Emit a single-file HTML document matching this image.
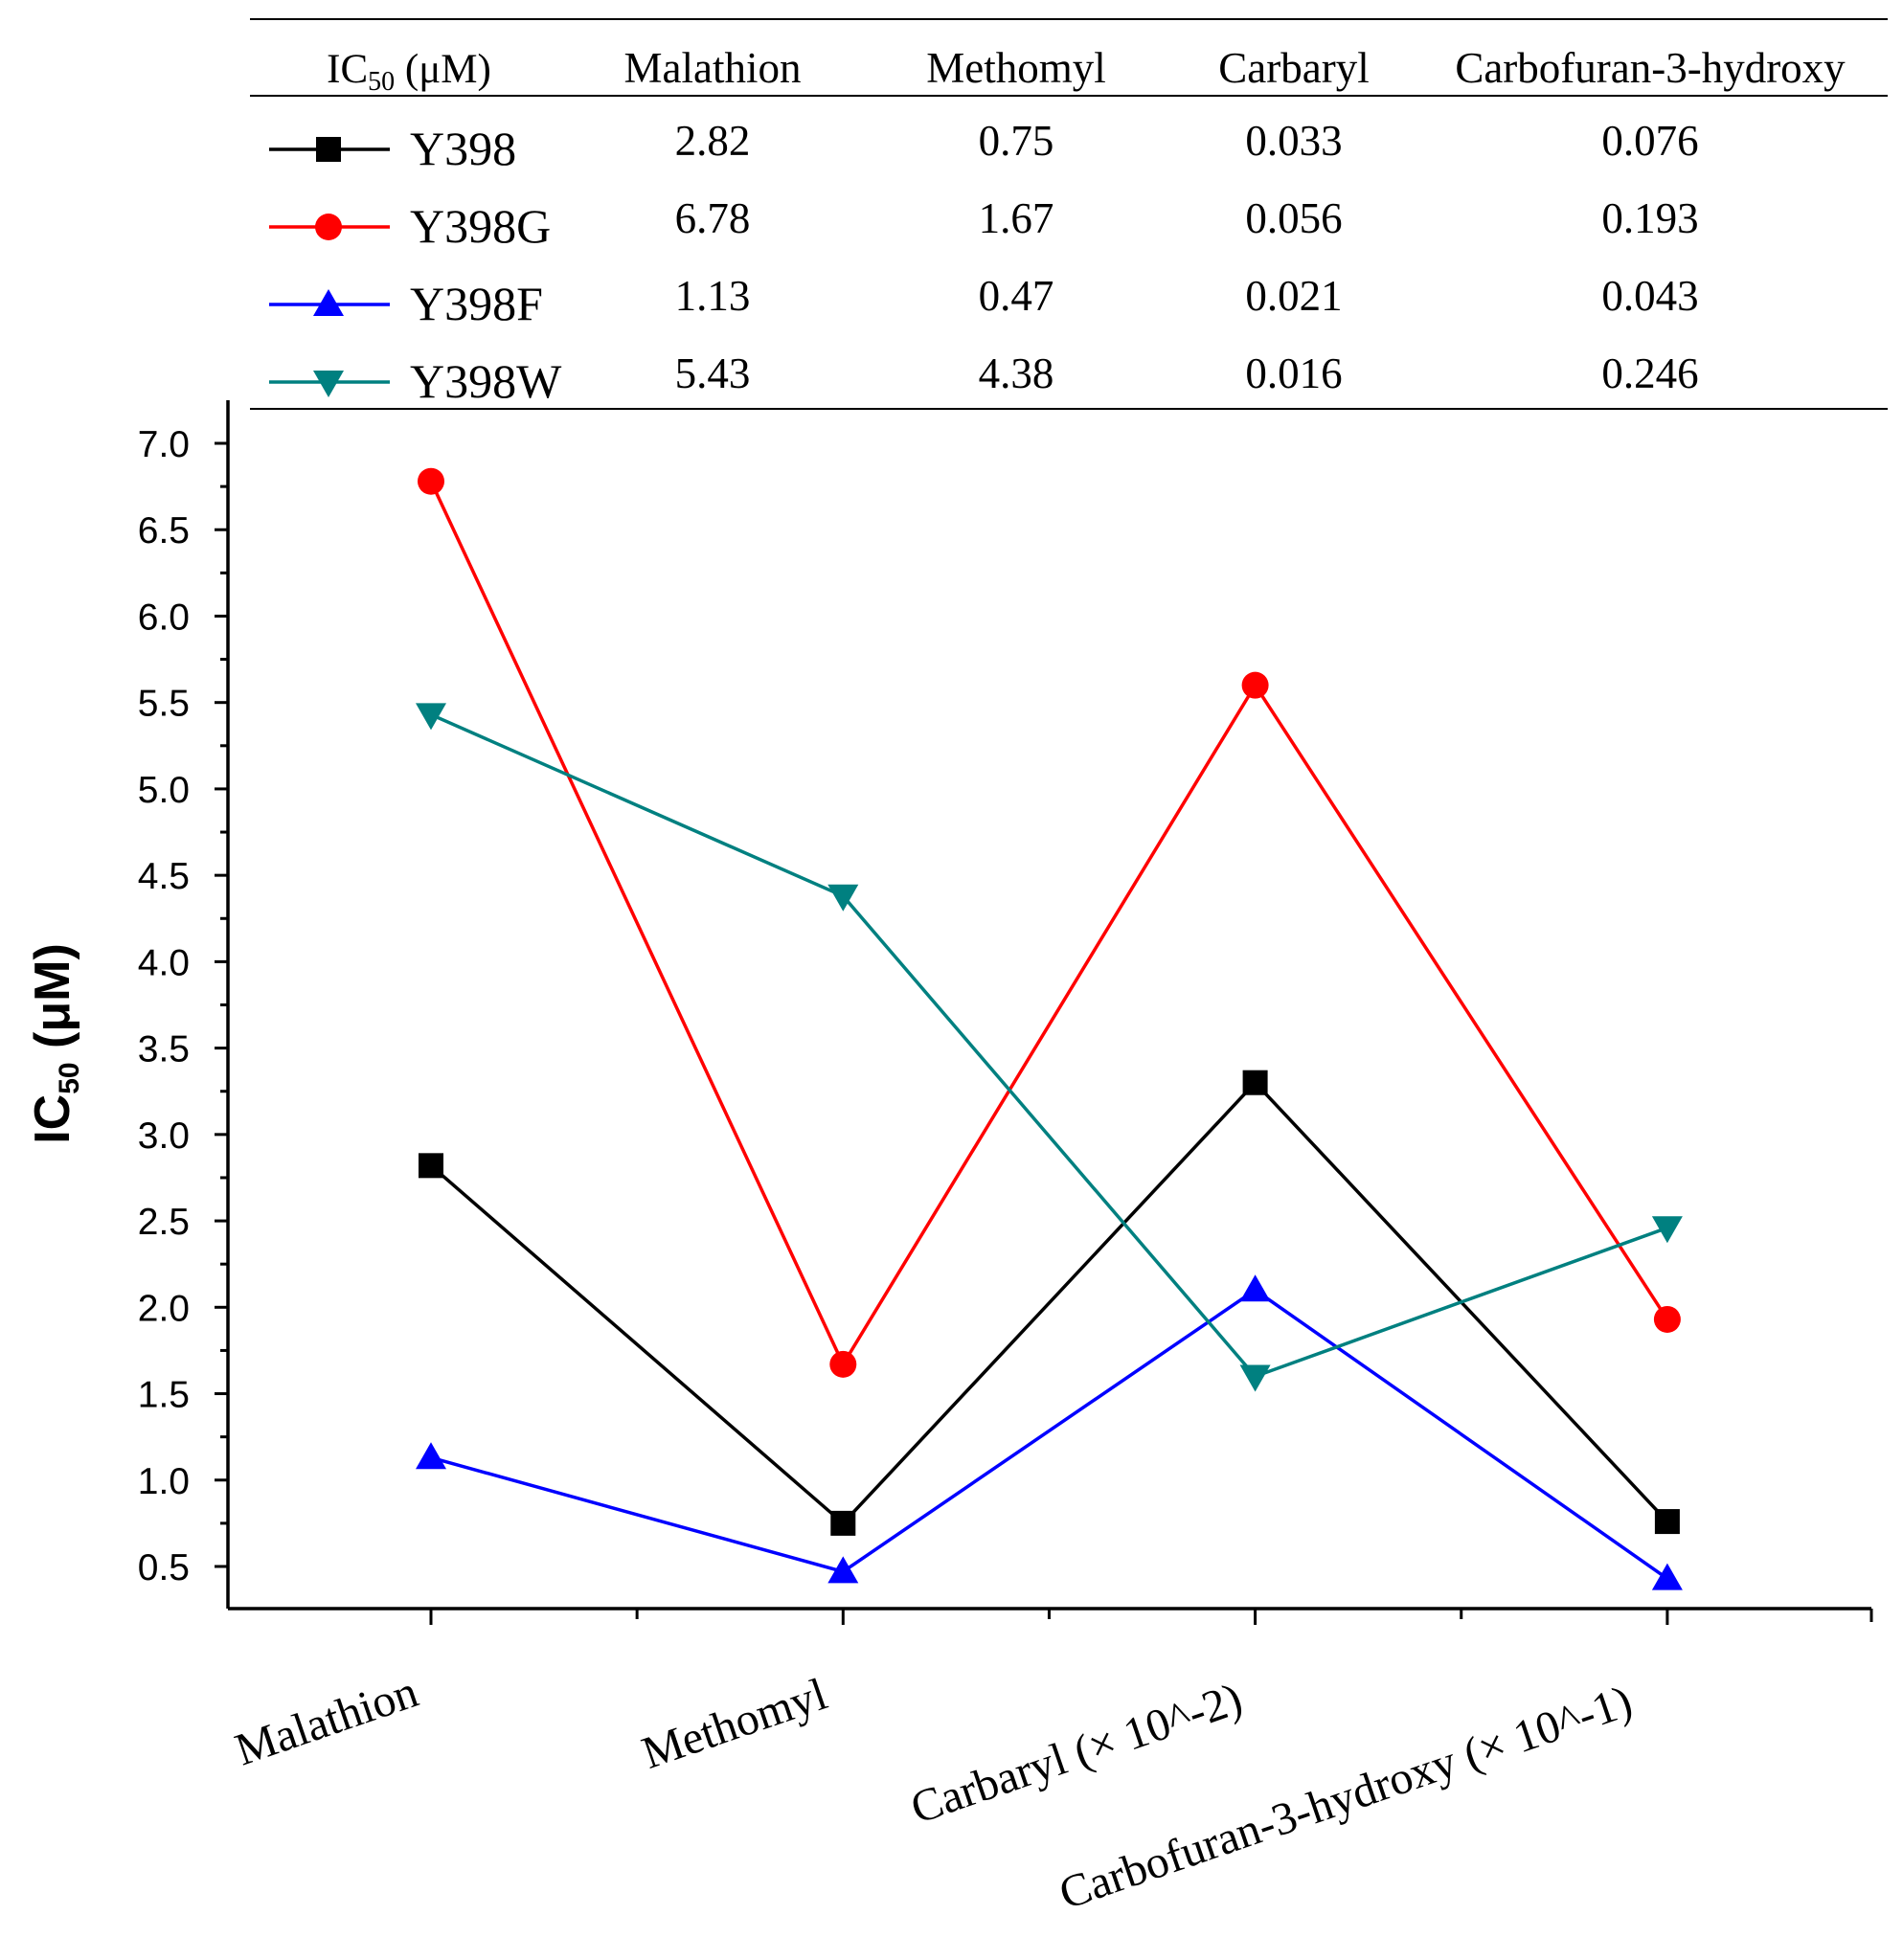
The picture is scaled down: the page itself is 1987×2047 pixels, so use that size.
<!DOCTYPE html>
<html><head><meta charset="utf-8"><style>body{margin:0;background:#fff}svg{display:block}</style></head>
<body>
<svg id="chart" width="1987" height="2047" xmlns="http://www.w3.org/2000/svg" font-family="Liberation Serif, serif"></svg>
<script>
const categories = ["Malathion","Methomyl","Carbaryl","Carbofuran-3-hydroxy"];
const xLabels = ["Malathion","Methomyl","Carbaryl (×  10^-2)","Carbofuran-3-hydroxy  (×  10^-1)"];
const seriesNames = ["Y398","Y398G","Y398F","Y398W"];
const y398 = [2.82,0.75,3.3,0.76];
const y398G = [6.78,1.67,5.6,1.93];
const y398F = [1.13,0.47,2.1,0.43];
const y398W = [5.43,4.38,1.6,2.46];
const tableRows = [["2.82","0.75","0.033","0.076"],["6.78","1.67","0.056","0.193"],["1.13","0.47","0.021","0.043"],["5.43","4.38","0.016","0.246"]];
const yTicks = [0.5,1.0,1.5,2.0,2.5,3.0,3.5,4.0,4.5,5.0,5.5,6.0,6.5,7.0];

const NS="http://www.w3.org/2000/svg";
const svg=document.getElementById('chart');
function mk(tag,attrs,parent){const e=document.createElementNS(NS,tag);for(const k in attrs)e.setAttribute(k,attrs[k]);(parent||svg).appendChild(e);return e;}
const y=v=>1636-(v-0.5)*(1636-463)/6.5;
const x=i=>450+i*430.3;
const colors=["#000000","#ff0000","#0000ff","#008080"];
const shapes=["square","circle","up","down"];
const series=[y398,y398G,y398F,y398W];

function marker(shape,cx,cy,color,g){
  let e;
  if(shape==="square") e=mk('rect',{x:cx-13,y:cy-13,width:26,height:26,fill:color},g);
  else if(shape==="circle") e=mk('circle',{cx:cx,cy:cy,r:14,fill:color},g);
  else if(shape==="up") e=mk('polygon',{points:`${cx},${cy-16} ${cx-16},${cy+12} ${cx+16},${cy+12}`,fill:color},g);
  else e=mk('polygon',{points:`${cx},${cy+16} ${cx-16},${cy-12} ${cx+16},${cy-12}`,fill:color},g);
  return e;
}

const ax=mk('g',{});


mk('line',{x1:238,y1:418,x2:238,y2:1680,stroke:'#000','stroke-width':3.5},ax);
mk('line',{x1:238,y1:1680,x2:1954,y2:1680,stroke:'#000','stroke-width':3.5},ax);
for(let v=0.25;v<=7.26;v+=0.25){
  const major=Math.abs(v*2-Math.round(v*2))<0.01;
  if(y(v)<418||y(v)>1680)continue;
  mk('line',{x1:238,y1:y(v),x2:major?224:230,y2:y(v),stroke:'#000','stroke-width':3},ax);
}
yTicks.forEach(v=>{
  const t=mk('text',{x:198,y:y(v)+14,'text-anchor':'end','font-size':39,'font-family':'Liberation Sans, sans-serif'},ax);
  t.textContent=v.toFixed(1);
  
  
});
for(let k=-1;k<=7;k++){
  const xx=450+k*215.15;
  if(xx<236||xx>1956)continue;
  const major=(k%2===0);
  mk('line',{x1:xx,y1:1680,x2:xx,y2:major?1697:1691,stroke:'#000','stroke-width':3},ax);
}
mk('line',{x1:1954,y1:1680,x2:1954,y2:1694,stroke:'#000','stroke-width':3},ax);
const yt=mk('text',{transform:'translate(72,1090) rotate(-90)','text-anchor':'middle','font-size':52,'font-weight':'bold','font-family':'Liberation Sans, sans-serif'});
yt.innerHTML='IC<tspan font-size="30" dy="10">50</tspan><tspan dy="-10"> (μM)</tspan>';



const xlPos=[[346,1812],[772,1815],[1129,1846],[1410,1892]];
xLabels.forEach((s,i)=>{
  const t=mk('text',{transform:`translate(${xlPos[i][0]},${xlPos[i][1]}) rotate(-19)`,'text-anchor':'middle','font-size':48});
  t.textContent=s;
  
  
});

series.forEach((d,s)=>{
  const g=mk('g',{});
  
  
  mk('polyline',{points:d.map((v,i)=>`${x(i)},${y(v)}`).join(' '),fill:'none',stroke:colors[s],'stroke-width':3.5},g);
  d.forEach((v,i)=>{
    const m=marker(shapes[s],x(i),y(v),colors[s],g);
    
    
  });
});

const tb=mk('g',{});


mk('line',{x1:261,y1:20,x2:1971,y2:20,stroke:'#000','stroke-width':2},tb);
mk('line',{x1:261,y1:100,x2:1971,y2:100,stroke:'#000','stroke-width':2},tb);
mk('line',{x1:261,y1:427,x2:1971,y2:427,stroke:'#000','stroke-width':2},tb);
const colX=[744,1061,1351,1723];
const h0=mk('text',{x:427,y:86,'text-anchor':'middle','font-size':43},tb);
h0.innerHTML='IC<tspan font-size="28" dy="8">50</tspan><tspan dy="-8"> (μM)</tspan>';


categories.forEach((c,i)=>{
  const t=mk('text',{x:colX[i],y:86,'text-anchor':'middle','font-size':45},tb);
  t.textContent=c;
  
  
});
const rowY=[172,253,334,415];
tableRows.forEach((r,ri)=>{
  const ly=rowY[ri]-16;
  mk('line',{x1:281,y1:ly,x2:407,y2:ly,stroke:colors[ri],'stroke-width':3.5},tb);
  const m=marker(shapes[ri],343,ly,colors[ri],tb);
  
  
  const n=mk('text',{x:428,y:rowY[ri],'font-size':50},tb);
  n.textContent=seriesNames[ri];
  
  
  r.forEach((v,ci)=>{
    const t=mk('text',{x:colX[ci],y:rowY[ri]-10,'text-anchor':'middle','font-size':45},tb);
    t.textContent=v;
    
    
  });
});
</script>
</body></html>
